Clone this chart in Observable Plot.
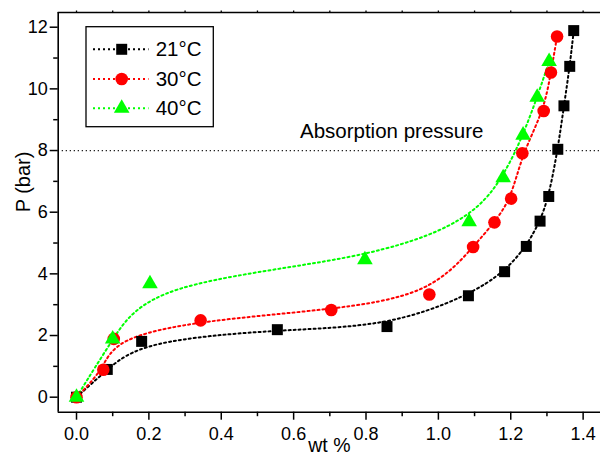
<!DOCTYPE html>
<html><head><meta charset="utf-8">
<script src="https://cdn.jsdelivr.net/npm/d3@7"></script>
<script src="https://cdn.jsdelivr.net/npm/@observablehq/plot@0.6"></script>
<style>
html,body{margin:0;padding:0;background:#fff;overflow:hidden;}
#chart svg{display:block;}
</style></head><body><div id="chart"></div>
<script>
// ---- data ----
const seriesNames = ["21°C", "30°C", "40°C"];
const seriesColors = ["#000000", "#ff0000", "#00ff00"];
const seriesSymbols = ["square", "circle", "triangle"];
const seriesRadii = [6.2, 6.3, 5.8];

const wt21 = [0, 0.085, 0.180, 0.555, 0.858, 1.083, 1.183, 1.243, 1.281, 1.305, 1.330, 1.347, 1.363, 1.374];
const p21  = [0, 0.90, 1.81, 2.19, 2.29, 3.29, 4.07, 4.89, 5.71, 6.51, 8.04, 9.45, 10.73, 11.89];
const wt30 = [0, 0.074, 0.103, 0.343, 0.704, 0.975, 1.096, 1.155, 1.201, 1.232, 1.291, 1.311, 1.328];
const p30  = [0, 0.89, 1.89, 2.49, 2.83, 3.33, 4.87, 5.67, 6.44, 7.91, 9.28, 10.53, 11.70];
const wt40 = [0, 0.100, 0.203, 0.797, 1.085, 1.179, 1.234, 1.273, 1.306];
const p40  = [0, 1.89, 3.68, 4.46, 5.69, 7.12, 8.50, 9.73, 10.89];

const absorptionPressure = [8];
const annotationText = ["Absorption pressure"];
const annotationX = [0.871];
const annotationY = [8.41];

const xMajorTicks = [0, 0.2, 0.4, 0.6, 0.8, 1.0, 1.2, 1.4];
const xMinorTicks = [0.1, 0.3, 0.5, 0.7, 0.9, 1.1, 1.3];
const xTopTicks = [0, 0.1, 0.2, 0.3, 0.4, 0.5, 0.6, 0.7, 0.8, 0.9, 1.0, 1.1, 1.2, 1.3, 1.4];
const yMajorTicks = [0, 2, 4, 6, 8, 10, 12];
const yMinorTicks = [1, 3, 5, 7, 9, 11];
const xLabel = "wt %";
const yLabel = "P (bar)";

// ---- build table ----
const xs = [wt21, wt30, wt40], ps = [p21, p30, p40];
const rows = [];
seriesNames.forEach((s, i) => xs[i].forEach((x, j) => rows.push({series: s, x, p: ps[i][j]})));
const bySeries = s => rows.filter(d => d.series === s);

const xDomain = [-0.0506, 1.448];
const yDomain = [-0.487, 12.477];
const font = "'Liberation Sans', Arial, Helvetica, sans-serif";
const dash = "2,3";

const marks = [
  Plot.ruleY(absorptionPressure, {stroke: "#222", strokeWidth: 1.2, strokeDasharray: "1.3,2.7"}),
  Plot.text(annotationText, {x: annotationX, y: annotationY, text: d => d, textAnchor: "middle", lineAnchor: "bottom", fontSize: 20.5, fill: "#000"}),
  ...seriesNames.map((s, i) => Plot.line(bySeries(s), {x: "x", y: "p", stroke: seriesColors[i], strokeWidth: 2, strokeDasharray: dash, curve: "basis", className: "dotline"})),
  ...seriesNames.map((s, i) => Plot.dot(bySeries(s), {x: "x", y: "p", symbol: seriesSymbols[i], fill: seriesColors[i], r: seriesRadii[i]})),
  Plot.axisX({ticks: xMajorTicks, tickSize: 8, tickPadding: 7, tickFormat: d3.format(".1f"), label: null, strokeWidth: 1.5, fontSize: 18}),
  Plot.axisX({ticks: xMinorTicks, tickSize: 4.5, tickFormat: () => "", label: null, strokeWidth: 1.5}),
  Plot.axisX({anchor: "top", ticks: xTopTicks, tickSize: 2.5, tickFormat: () => "", label: null, strokeWidth: 1.3}),
  Plot.axisY({ticks: yMajorTicks, tickSize: 8, tickPadding: 2.5, label: null, strokeWidth: 1.5, fontSize: 18}),
  Plot.axisY({ticks: yMinorTicks, tickSize: 4.5, tickFormat: () => "", label: null, strokeWidth: 1.5}),
  Plot.ruleX([xDomain[0]], {stroke: "#000", strokeWidth: 1.6}),
  Plot.ruleY([yDomain[0]], {stroke: "#000", strokeWidth: 1.6}),
  Plot.ruleY([yDomain[1]], {stroke: "#000", strokeWidth: 1.6}),
  Plot.text([xLabel], {frameAnchor: "bottom", dy: 40, lineAnchor: "bottom", fontSize: 19.5, fill: "#000"}),
  Plot.text([yLabel], {frameAnchor: "left", dx: -34.5, rotate: -90, lineAnchor: "middle", fontSize: 20, fill: "#000"})
];

const chart = Plot.plot({
  width: 600, height: 457,
  marginLeft: 57.7, marginRight: 0, marginTop: 12, marginBottom: 45.3,
  x: {domain: xDomain},
  y: {domain: yDomain},
  style: {fontFamily: font, fontSize: "18px", color: "#000", background: "#fff", overflow: "visible"},
  marks
});
document.getElementById("chart").appendChild(chart);

// make sure the series lines are dotted
chart.querySelectorAll(".dotline, .dotline path").forEach(el => el.setAttribute("stroke-dasharray", dash));

// ---- legend (layout only) ----
const svg = d3.select(chart);
const lg = svg.append("g").attr("font-family", font).attr("text-anchor", "start");
lg.append("rect").attr("x", 86).attr("y", 26.7).attr("width", 127.3).attr("height", 100)
  .attr("fill", "#fff").attr("stroke", "#000").attr("stroke-width", 1.3);
const rowY = [49.3, 79, 108.3];
const d3Sym = {square: d3.symbolSquare, circle: d3.symbolCircle, triangle: d3.symbolTriangle};
seriesNames.forEach((s, i) => {
  const y = rowY[i];
  lg.append("line").attr("x1", 93).attr("x2", 148.5).attr("y1", y).attr("y2", y)
    .attr("stroke", seriesColors[i]).attr("stroke-width", 2).attr("stroke-dasharray", dash);
  lg.append("path").attr("transform", `translate(121.7,${y})`)
    .attr("d", d3.symbol(d3Sym[seriesSymbols[i]], Math.PI * seriesRadii[i] ** 2)())
    .attr("fill", seriesColors[i]);
  lg.append("text").attr("x", 155.7).attr("y", y + 7).attr("font-size", 20.5).attr("fill", "#000")
    .attr("text-anchor", "start").text(s);
});
</script></body></html>
